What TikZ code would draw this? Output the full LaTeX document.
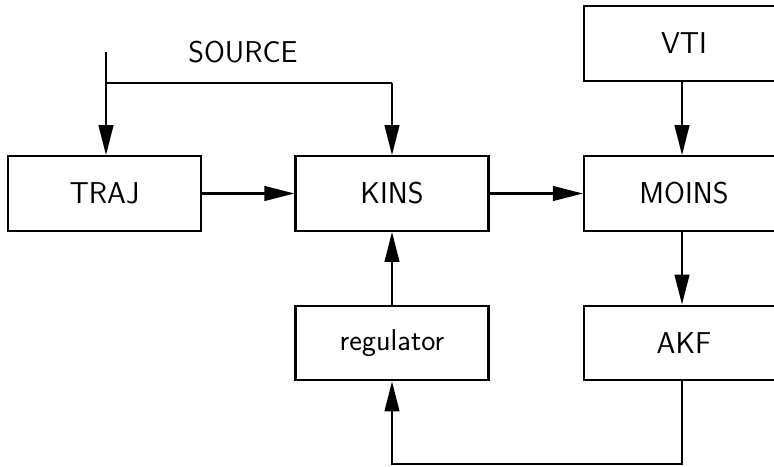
\documentclass[tikz,border=0pt]{standalone}
\usetikzlibrary{arrows.meta}
\begin{document}
\begin{tikzpicture}[x=0.75pt,y=-0.75pt,
  font=\fontsize{22.6}{27}\selectfont\sffamily,
  block/.style={draw,line width=1.6pt,minimum width=144.75pt,minimum height=56pt,inner sep=0pt},
  wideblock/.style={block,minimum width=150pt},
  flow/.style={line width=1.6pt,-{Triangle[length=22.5pt,width=11pt]}},
  wire/.style={line width=1.6pt}]
\useasboundingbox (0,0) rectangle (774,467);
% blocks
\node[block] (traj) at (104.5,193.5) {TRAJ};
\node[block] (kins) at (392,193.5) {KINS};
\node[wideblock] (moins) at (684,193.5) {MOINS};
\node[wideblock] (vti) at (684,43.5) {VTI};
\node[block] (reg) at (392,343) {regulator};
\node[wideblock] (akf) at (684,343) {AKF};
% source input
\node (srclabel) at (243,52) {SOURCE};
\coordinate (src) at (106,52);
\coordinate (split) at (106,83);
\coordinate (loop) at (682,464);
\draw[wire] (src) -- (split) -- (split -| kins.north);
\draw[flow] (split) -- (split |- traj.north);
\draw[flow] (split -| kins.north) -- (kins.north);
% main chain
\draw[flow] (traj) -- (kins);
\draw[flow] (kins) -- (moins);
\draw[flow] (vti.south -| loop) -- (moins.north -| loop);
\draw[flow] (moins.south -| loop) -- (akf.north -| loop);
\draw[flow] (reg) -- (kins);
% feedback
\draw[flow] (akf.south -| loop) -- (loop) -| (reg.south);
\end{tikzpicture}
\end{document}
